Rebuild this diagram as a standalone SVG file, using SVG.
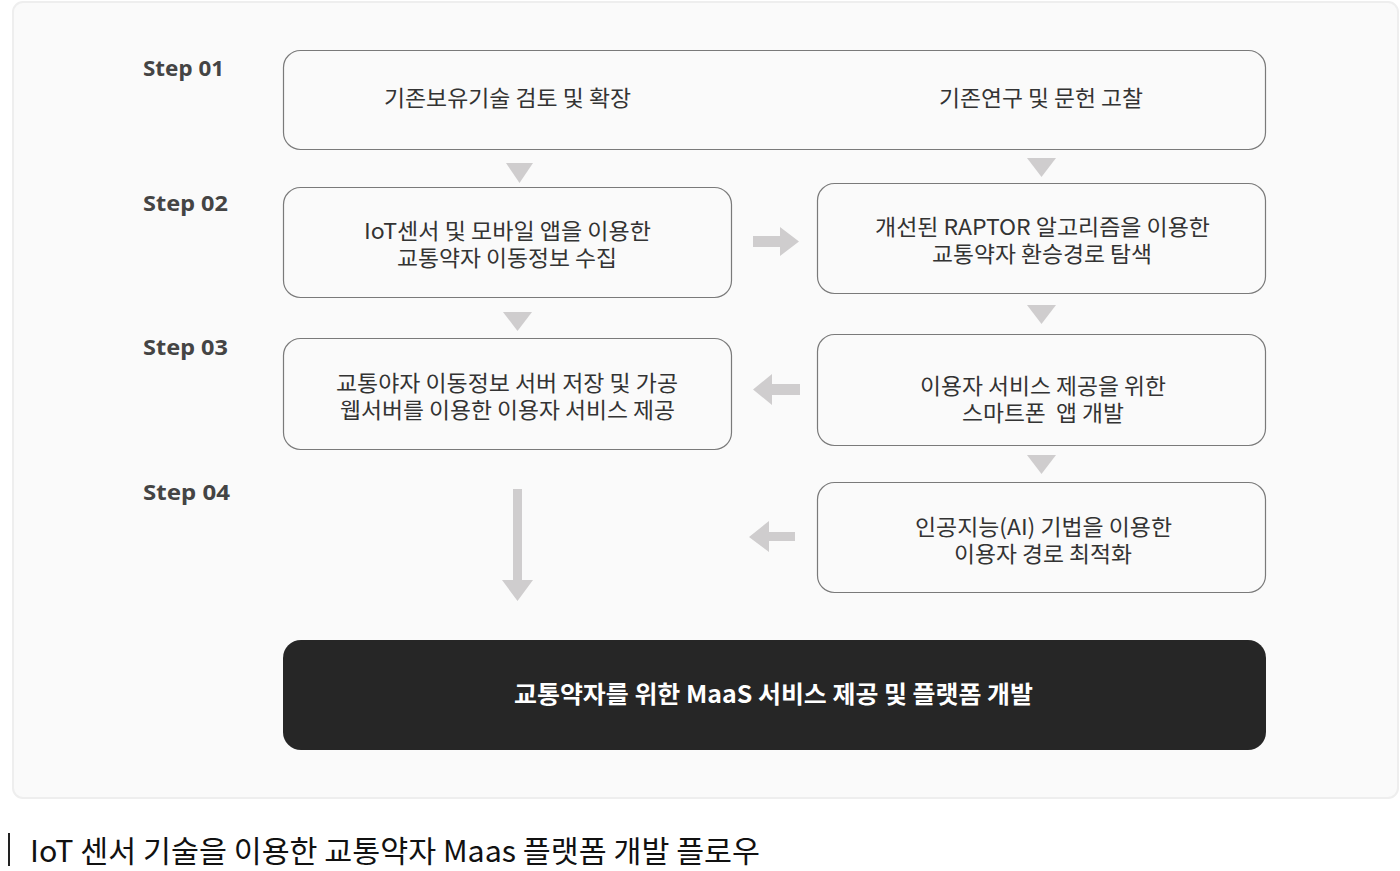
<svg xmlns="http://www.w3.org/2000/svg" width="1400" height="871" viewBox="0 0 1400 871">
<style>
.step{font-family:"Noto Sans","Liberation Sans",sans-serif;font-weight:700;font-size:21px;fill:#444}
.box{fill:#fafafa;stroke:#7a7a7a;stroke-width:1.2}
.t{font-family:"Noto Sans CJK KR","Noto Sans",sans-serif;font-size:22px;fill:#333;text-anchor:middle}
.arr{fill:#cfcdce}
</style>
<rect x="13" y="2" width="1385" height="796" rx="10" fill="#fafafa" stroke="#eeeeee" stroke-width="2"/>
<g id="steps">
<text class="step" x="143" y="76" textLength="81" lengthAdjust="spacingAndGlyphs">Step 01</text>
<text class="step" x="143" y="211" textLength="85" lengthAdjust="spacingAndGlyphs">Step 02</text>
<text class="step" x="143" y="355" textLength="85" lengthAdjust="spacingAndGlyphs">Step 03</text>
<text class="step" x="143" y="500" textLength="87" lengthAdjust="spacingAndGlyphs">Step 04</text>
</g>
<g id="node-step01">
<rect class="box" x="283.5" y="50.5" width="982" height="99" rx="17"/>
<text class="t" x="507.5" y="106" textLength="247" lengthAdjust="spacingAndGlyphs">기존보유기술 검토 및 확장</text>
<text class="t" x="1041" y="106" textLength="204" lengthAdjust="spacingAndGlyphs">기존연구 및 문헌 고찰</text>
</g>
<g id="node-step02-left">
<rect class="box" x="283.5" y="187.5" width="448" height="110" rx="17"/>
<text class="t" x="507.5" y="239" textLength="287" lengthAdjust="spacingAndGlyphs">IoT센서 및 모바일 앱을 이용한</text>
<text class="t" x="507" y="266" textLength="220" lengthAdjust="spacingAndGlyphs">교통약자 이동정보 수집</text>
</g>
<g id="node-step02-right">
<rect class="box" x="817.5" y="183.5" width="448" height="110" rx="17"/>
<text class="t" x="1042.5" y="235" textLength="335" lengthAdjust="spacingAndGlyphs">개선된 RAPTOR 알고리즘을 이용한</text>
<text class="t" x="1042" y="262" textLength="220" lengthAdjust="spacingAndGlyphs">교통약자 환승경로 탐색</text>
</g>
<g id="node-step03-left">
<rect class="box" x="283.5" y="338.5" width="448" height="111" rx="17"/>
<text class="t" x="507" y="391" textLength="342" lengthAdjust="spacingAndGlyphs">교통야자 이동정보 서버 저장 및 가공</text>
<text class="t" x="507.5" y="418" textLength="335" lengthAdjust="spacingAndGlyphs">웹서버를 이용한 이용자 서비스 제공</text>
</g>
<g id="node-step03-right">
<rect class="box" x="817.5" y="334.5" width="448" height="111" rx="17"/>
<text class="t" x="1043" y="394" textLength="246" lengthAdjust="spacingAndGlyphs">이용자 서비스 제공을 위한</text>
<text class="t" x="1043" y="421" xml:space="preserve" textLength="162" lengthAdjust="spacingAndGlyphs">스마트폰  앱 개발</text>
</g>
<g id="node-step04-right">
<rect class="box" x="817.5" y="482.5" width="448" height="110" rx="17"/>
<text class="t" x="1043.5" y="535" textLength="257" lengthAdjust="spacingAndGlyphs">인공지능(AI) 기법을 이용한</text>
<text class="t" x="1043" y="562" textLength="178" lengthAdjust="spacingAndGlyphs">이용자 경로 최적화</text>
</g>
<g id="node-result">
<rect x="283" y="640" width="983" height="110" rx="18" fill="#262626"/>
<text x="773.5" y="703" font-family="'Noto Sans CJK KR','Noto Sans',sans-serif" font-weight="700" font-size="24" fill="#ffffff" text-anchor="middle" textLength="519" lengthAdjust="spacingAndGlyphs">교통약자를 위한 MaaS 서비스 제공 및 플랫폼 개발</text>
</g>
<g id="connectors">
<polygon class="arr" points="506,163 533,163 519.5,183"/>
<polygon class="arr" points="1027,158 1056,158 1041.5,177"/>
<polygon class="arr" points="503,312 532,312 517.5,331"/>
<polygon class="arr" points="1027,305 1056,305 1041.5,324"/>
<polygon class="arr" points="1027,455 1056,455 1041.5,474"/>
<polygon class="arr" points="753,236 780,236 780,227 799,241.5 780,256 780,247 753,247"/>
<polygon class="arr" points="800,384 772,384 772,374 753,389.5 772,405 772,395 800,395"/>
<polygon class="arr" points="795,532 769,532 769,521 749,537 769,552 769,541 795,541"/>
<polygon class="arr" points="513,489 522,489 522,580 533,580 517.5,601 502,580 513,580"/>
</g>
<g id="caption">
<rect x="8" y="833" width="2" height="33" fill="#222"/>
<text x="30" y="862" font-family="'Noto Sans CJK KR','Noto Sans',sans-serif" font-size="30" fill="#111" textLength="730" lengthAdjust="spacingAndGlyphs">IoT 센서 기술을 이용한 교통약자 Maas 플랫폼 개발 플로우</text>
</g>
</svg>
